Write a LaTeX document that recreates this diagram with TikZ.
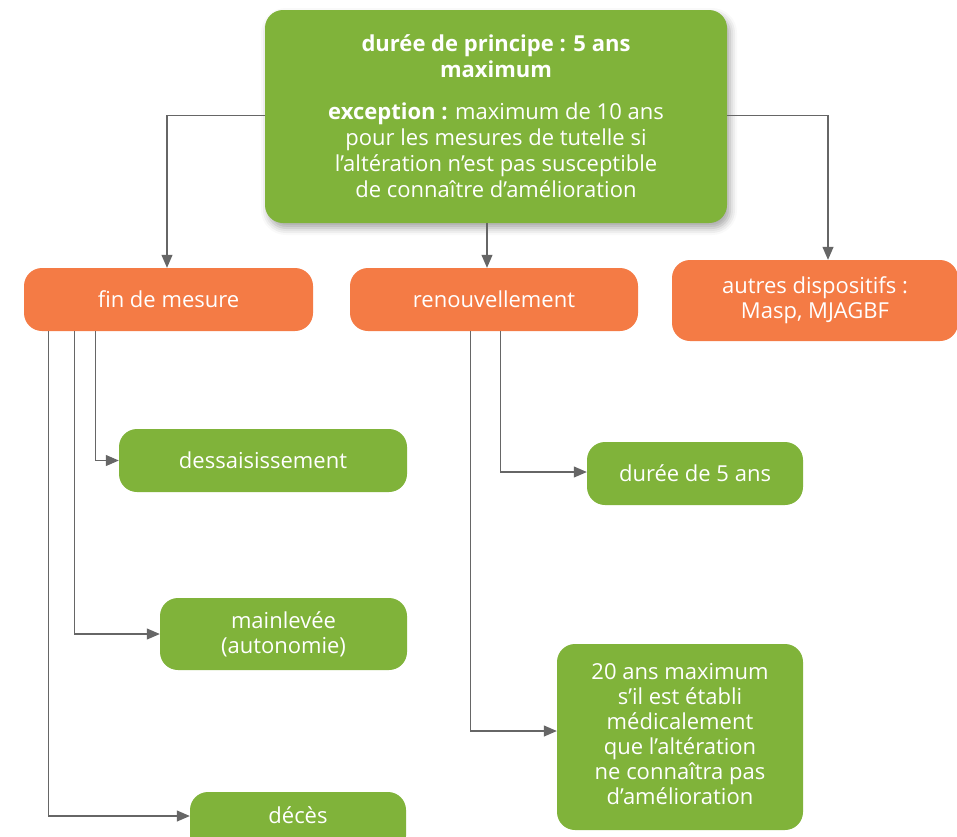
\documentclass[tikz,border=0pt]{standalone}
\usepackage{fontspec}
\setmainfont{Open Sans}
\usetikzlibrary{arrows.meta,shadows.blur,calc}
\definecolor{boxgreen}{HTML}{80B33A}
\definecolor{boxorange}{HTML}{F47B45}
\definecolor{linkgray}{HTML}{666666}

\begin{document}
\begin{tikzpicture}[x=1pt,y=-1pt,
  box/.style={rounded corners=18pt, text=white, align=center, inner sep=0pt,
    font=\fontsize{22}{25}\selectfont},
  greenbox/.style={box, fill=boxgreen},
  orangebox/.style={box, fill=boxorange},
  link/.style={draw=linkgray, line width=1.1pt, -{Triangle[length=13pt,width=11pt]}}]

\useasboundingbox (0,0) rectangle (957,836);
\clip (0,0) rectangle (957,836);

% main rule
\node[greenbox, minimum width=462pt, minimum height=213pt,
  font=\fontsize{22}{26}\selectfont,
  blur shadow={shadow xshift=3pt, shadow yshift=-5pt, shadow blur radius=7pt, shadow opacity=35}]
  (top) at (496,116.5)
  {\textbf{durée de principe : 5 ans}\\ \textbf{maximum}\\[16pt]
   \textbf{exception :} maximum de 10 ans\\
   pour les mesures de tutelle si\\
   l’altération n’est pas susceptible\\
   de connaître d’amélioration};

% second level
\node[orangebox, minimum width=289pt, minimum height=63pt] (fin) at (168.5,299.5) {fin de mesure};
\node[orangebox, minimum width=288pt, minimum height=63pt] (ren) at (494,299.5) {renouvellement};
\node[orangebox, minimum width=286pt, minimum height=81pt] (autres) at (815,300.5)
  {autres dispositifs :\\ Masp, MJAGBF};

% end of measure
\node[greenbox, minimum width=288pt, minimum height=63pt] (dess) at (263,460.5) {dessaisissement};
\node[greenbox, minimum width=247pt, minimum height=72pt] (mainlevee) at (283.5,634)
  {mainlevée\\ (autonomie)};
\node[greenbox, minimum width=216pt, minimum height=62pt] (deces) at (298,823) {};
\node[text=white, font=\fontsize{22}{25}\selectfont] (decestext) at (298,815) {décès};

% renewal
\node[greenbox, minimum width=216pt, minimum height=63pt] (cinq) at (695,473.5) {durée de 5 ans};
\node[greenbox, minimum width=246pt, minimum height=186pt] (vingt) at (680,737)
  {\raisebox{4pt}{\begin{tabular}{@{}c@{}}20 ans maximum\\ s’il est établi\\ médicalement\\
   que l’altération\\ ne connaîtra pas\\ d’amélioration\end{tabular}}};

% connectors
\draw[link] ($(top.west)+(0,-1)$) -| ($(fin.north)+(-1.5,0)$);
\draw[link] ($(top.south)+(-9,0)$) -- ($(ren.north)+(-7,0)$);
\draw[link] ($(top.east)+(0,-1)$) -| ($(autres.north)+(13,0)$);

\draw[link] ($(fin.south west)+(72,0)$) |- (dess.west);
\draw[link] ($(fin.south west)+(51,0)$) |- (mainlevee.west);
\draw[link] ($(fin.south west)+(25,0)$) |- ($(deces.west)+(0,-7)$);

\draw[link] ($(ren.south west)+(151,0)$) |- ($(cinq.west)+(0,-1.5)$);
\draw[link] ($(ren.south west)+(121,0)$) |- ($(vingt.west)+(0,-6)$);
\end{tikzpicture}
\end{document}
